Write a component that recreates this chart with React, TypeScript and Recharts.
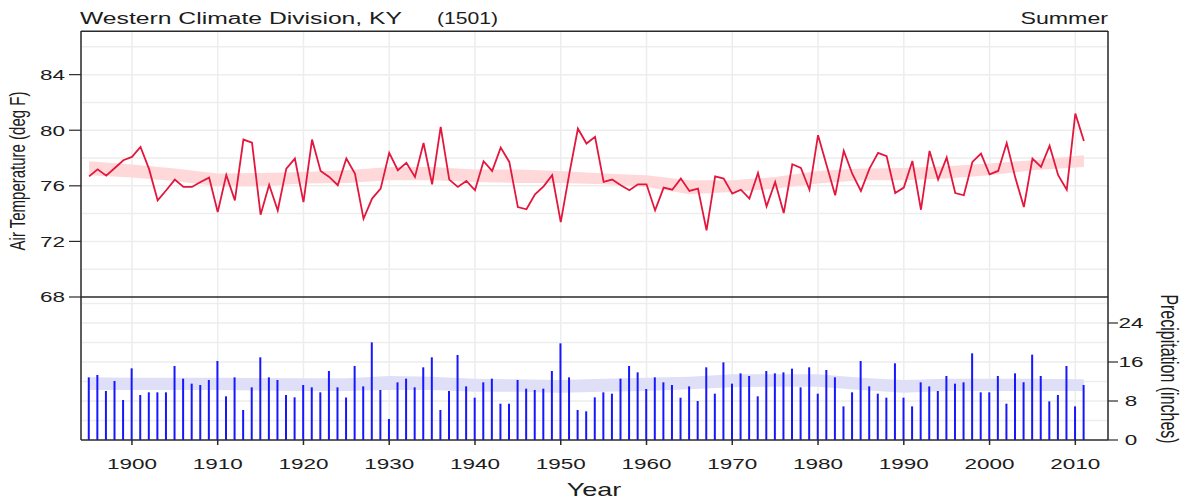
import React from 'react';
import { ComposedChart, Line, Bar, Area, XAxis, YAxis, CartesianGrid, ReferenceLine } from 'recharts';

const FIRST_YEAR = 1895;

// Summer mean air temperature (deg F), 1895-2011
const temperature = [
  76.68, 77.19, 76.73, 77.28, 77.84,
  78.08, 78.8, 77.2, 74.95, 75.68, 76.45, 75.92, 75.92, 76.28, 76.59,
  74.11, 76.78, 74.95, 79.33, 79.11, 73.92, 76.08, 74.23, 77.24, 77.96,
  74.83, 79.33, 77.07, 76.64, 76.04, 77.96, 76.88, 73.63, 75.08, 75.8,
  78.37, 77.12, 77.65, 76.64, 79.08, 76.11, 80.24, 76.45, 75.92, 76.35,
  75.68, 77.77, 77.07, 78.75, 77.72, 74.47, 74.31, 75.39, 75.96, 76.76,
  73.39, 76.88, 80.12, 79.04, 79.52, 76.28, 76.45, 76.04, 75.68, 76.11,
  76.11, 74.23, 75.87, 75.72, 76.52, 75.63, 75.8, 72.79, 76.68, 76.52,
  75.44, 75.72, 75.08, 76.92, 74.52, 76.28, 74.04, 77.55, 77.28, 75.72,
  79.64, 77.48, 75.32, 78.51, 76.85, 75.63, 77.24, 78.37, 78.13, 75.48,
  75.87, 77.79, 74.28, 78.51, 76.45, 78.03, 75.48, 75.32, 77.72, 78.32,
  76.83, 77.07, 79.08, 76.59, 74.47, 77.96, 77.36, 78.89, 76.76, 75.72,
  81.2, 79.23,
];

// Summer precipitation (inches), 1895-2011
const precipitation = [
  12.85, 13.33, 10.05, 12.1, 8.2,
  14.7, 9.23, 9.78, 9.78, 9.78, 15.18, 12.58, 11.56, 11.28, 12.31,
  16.2, 8.96, 12.85, 6.15, 10.8, 16.96, 12.85, 12.31, 9.23, 8.75,
  11.28, 10.8, 9.78, 14.15, 10.8, 8.72, 15.18, 11.0, 20.03, 10.26,
  4.31, 11.83, 12.58, 10.8, 14.91, 16.96, 6.15, 10.05, 17.44, 11.0,
  8.68, 11.83, 12.58, 7.45, 7.45, 12.31, 10.53, 10.26, 10.53, 14.15,
  19.83, 12.85, 6.15, 5.88, 8.75, 9.78, 9.5, 12.58, 15.18, 13.88,
  10.46, 12.85, 11.83, 11.28, 8.68, 11.0, 8.0, 14.91, 9.5, 15.93,
  11.56, 13.67, 13.13, 8.96, 14.15, 13.67, 13.88, 14.63, 10.8, 14.91,
  9.5, 14.36, 12.85, 6.9, 9.78, 16.2, 11.0, 9.5, 8.68, 15.73,
  8.68, 6.9, 11.83, 11.0, 10.05, 13.13, 11.56, 11.83, 17.78, 9.78,
  9.78, 13.13, 7.45, 13.67, 11.83, 17.5, 13.13, 7.93, 9.23, 15.18,
  6.9, 11.28,
];

// smoothed temperature band
const tempBandYears = [1895, 1900, 1905, 1910, 1915, 1920, 1925, 1930, 1935, 1940, 1945, 1950, 1955, 1960, 1965, 1970, 1975, 1980, 1985, 1990, 1995, 2000, 2005, 2011];
const tempBandLow = [76.76, 76.59, 76.35, 75.96, 75.96, 76.16, 76.2, 76.4, 76.4, 76.28, 76.2, 76.2, 76.11, 75.92, 75.39, 75.55, 75.8, 76.16, 76.4, 76.4, 76.52, 76.76, 77.12, 77.36];
const tempBandHigh = [77.77, 77.53, 77.24, 76.88, 76.92, 76.99, 77.12, 77.36, 77.36, 77.17, 77.17, 77.07, 76.88, 76.76, 76.4, 76.4, 76.64, 77.07, 77.24, 77.28, 77.4, 77.6, 77.84, 78.2];

// smoothed precipitation band
const precipBandYears = [1895, 1900, 1910, 1920, 1925, 1930, 1935, 1940, 1945, 1950, 1955, 1960, 1965, 1970, 1975, 1980, 1985, 1990, 1995, 2000, 2005, 2011];
const precipBandLow = [10.26, 10.26, 10.26, 10.05, 10.05, 10.26, 10.26, 9.91, 9.91, 9.71, 9.91, 10.05, 10.39, 10.8, 10.94, 10.94, 10.26, 9.71, 10.05, 10.05, 10.05, 10.05];
const precipBandHigh = [12.85, 12.78, 12.78, 12.65, 12.65, 13.13, 12.99, 12.58, 12.44, 12.31, 12.58, 12.78, 12.99, 13.47, 13.47, 13.47, 12.78, 12.31, 12.58, 12.58, 12.58, 12.44];

const yearTicks = [1900, 1910, 1920, 1930, 1940, 1950, 1960, 1970, 1980, 1990, 2000, 2010];
const tempTicks = [68, 72, 76, 80, 84];
const precipTicks = [0, 8, 16, 24];
const tempGrid = [70, 72, 74, 76, 78, 80, 82, 84, 86];
const precipGrid = [4, 8, 12, 16, 20, 24, 28];

const X_DOMAIN = [1894.06, 2013.81];
const T_DOMAIN = [57.71, 87.14];
const P_DOMAIN = [0, 83.9];

const rows = temperature.map((t, i) => ({ year: FIRST_YEAR + i, temp: t, precip: precipitation[i] }));
const tempBandRows = tempBandYears.map((y, i) => ({ year: y, range: [tempBandLow[i], tempBandHigh[i]] }));
const precipBandRows = precipBandYears.map((y, i) => ({ year: y, range: [precipBandLow[i], precipBandHigh[i]] }));

const SX = 1.5;
const FONT = "Arial, 'Liberation Sans', Helvetica, sans-serif";
const TXT = '#1c1c1c';
const FRAME = '#2a2a2a';
const GRID = '#ededed';

const XTick = (props: any) => {
  const { x, y, payload } = props;
  return (
    <text transform={`translate(${x},${y + 22}) scale(${SX},1)`} textAnchor="middle" fontSize={15} fontFamily={FONT} fill={TXT}>
      {payload.value}
    </text>
  );
};

const LeftTick = (props: any) => {
  const { x, y, payload } = props;
  return (
    <text transform={`translate(${x},${y + 5.3}) scale(${SX},1)`} textAnchor="end" fontSize={15} fontFamily={FONT} fill={TXT}>
      {payload.value}
    </text>
  );
};

const RightTick = (props: any) => {
  const { x, y, payload } = props;
  return (
    <text transform={`translate(${x + 11},${y + 5.3}) scale(${SX},1)`} textAnchor="middle" fontSize={15} fontFamily={FONT} fill={TXT}>
      {payload.value}
    </text>
  );
};

export default function App() {
  return (
    <div style={{ position: 'absolute', left: 0, top: 0, width: 1186, height: 500, background: '#fff' }}>
      <ComposedChart width={1186} height={500} data={rows} margin={{ top: 31, right: 0, bottom: 0, left: 0 }}>
        <CartesianGrid horizontal={false} vertical={true} stroke={GRID} strokeWidth={1.5} yAxisId="t" />
        <CartesianGrid horizontal={true} vertical={false} stroke={GRID} strokeWidth={1.5} yAxisId="t" horizontalValues={tempGrid} />
        <CartesianGrid horizontal={true} vertical={false} stroke={GRID} strokeWidth={1.5} yAxisId="p" horizontalValues={precipGrid} />
        <XAxis
          dataKey="year"
          type="number"
          domain={X_DOMAIN}
          allowDataOverflow
          ticks={yearTicks}
          interval={0}
          height={60}
          tickSize={5}
          tickMargin={2}
          axisLine={{ stroke: FRAME, strokeWidth: 1.5 }}
          tickLine={{ stroke: FRAME, strokeWidth: 1.5 }}
          tick={<XTick />}
        />
        <YAxis
          yAxisId="t"
          type="number"
          domain={T_DOMAIN}
          allowDataOverflow
          ticks={tempTicks}
          interval={0}
          width={81}
          tickSize={12}
          tickMargin={4}
          axisLine={{ stroke: FRAME, strokeWidth: 1.5 }}
          tickLine={{ stroke: FRAME, strokeWidth: 1.2 }}
          tick={<LeftTick />}
        />
        <YAxis
          yAxisId="p"
          orientation="right"
          type="number"
          domain={P_DOMAIN}
          allowDataOverflow
          ticks={precipTicks}
          interval={0}
          width={78}
          tickSize={10}
          tickMargin={2}
          axisLine={{ stroke: FRAME, strokeWidth: 1.5 }}
          tickLine={{ stroke: FRAME, strokeWidth: 1.2 }}
          tick={<RightTick />}
        />
        <Area
          yAxisId="t"
          data={tempBandRows}
          dataKey="range"
          type="linear"
          stroke="none"
          fill="#ffd9d9"
          fillOpacity={1}
          isAnimationActive={false}
        />
        <Area
          yAxisId="p"
          data={precipBandRows}
          dataKey="range"
          type="linear"
          stroke="none"
          fill="#dfe0f8"
          fillOpacity={1}
          isAnimationActive={false}
        />
        <Bar yAxisId="p" dataKey="precip" fill="#1616ff" barSize={2} isAnimationActive={false} />
        <Line
          yAxisId="t"
          dataKey="temp"
          type="linear"
          stroke="#e3173e"
          strokeWidth={1.8}
          dot={false}
          activeDot={false}
          isAnimationActive={false}
        />
        <ReferenceLine yAxisId="t" y={68} stroke={FRAME} strokeWidth={1.5} />
        <ReferenceLine yAxisId="t" y={87.13} stroke={FRAME} strokeWidth={1.5} />
      </ComposedChart>
      <svg width={1186} height={500} style={{ position: 'absolute', left: 0, top: 0, pointerEvents: 'none' }}>
        <text x={80} y={24} fontSize={16} fontFamily={FONT} fill={TXT} textLength={322} lengthAdjust="spacingAndGlyphs">
          Western Climate Division, KY
        </text>
        <text x={437} y={24} fontSize={16} fontFamily={FONT} fill={TXT} textLength={61} lengthAdjust="spacingAndGlyphs">
          (1501)
        </text>
        <text x={1108} y={24} fontSize={16} fontFamily={FONT} fill={TXT} textAnchor="end" transform="translate(1108,0) scale(1.45,1) translate(-1108,0)">
          Summer
        </text>
        <text transform={`translate(25,171) scale(${SX},1) rotate(-90)`} textAnchor="middle" fontSize={15} fontFamily={FONT} fill={TXT}>
          Air Temperature (deg F)
        </text>
        <text transform={`translate(1161,369) scale(${SX},1) rotate(90)`} textAnchor="middle" fontSize={16} fontFamily={FONT} fill={TXT}>
          Precipitation (inches)
        </text>
        <text transform={`translate(594,496) scale(${SX},1)`} textAnchor="middle" fontSize={18} fontFamily={FONT} fill={TXT}>
          Year
        </text>
      </svg>
    </div>
  );
}
